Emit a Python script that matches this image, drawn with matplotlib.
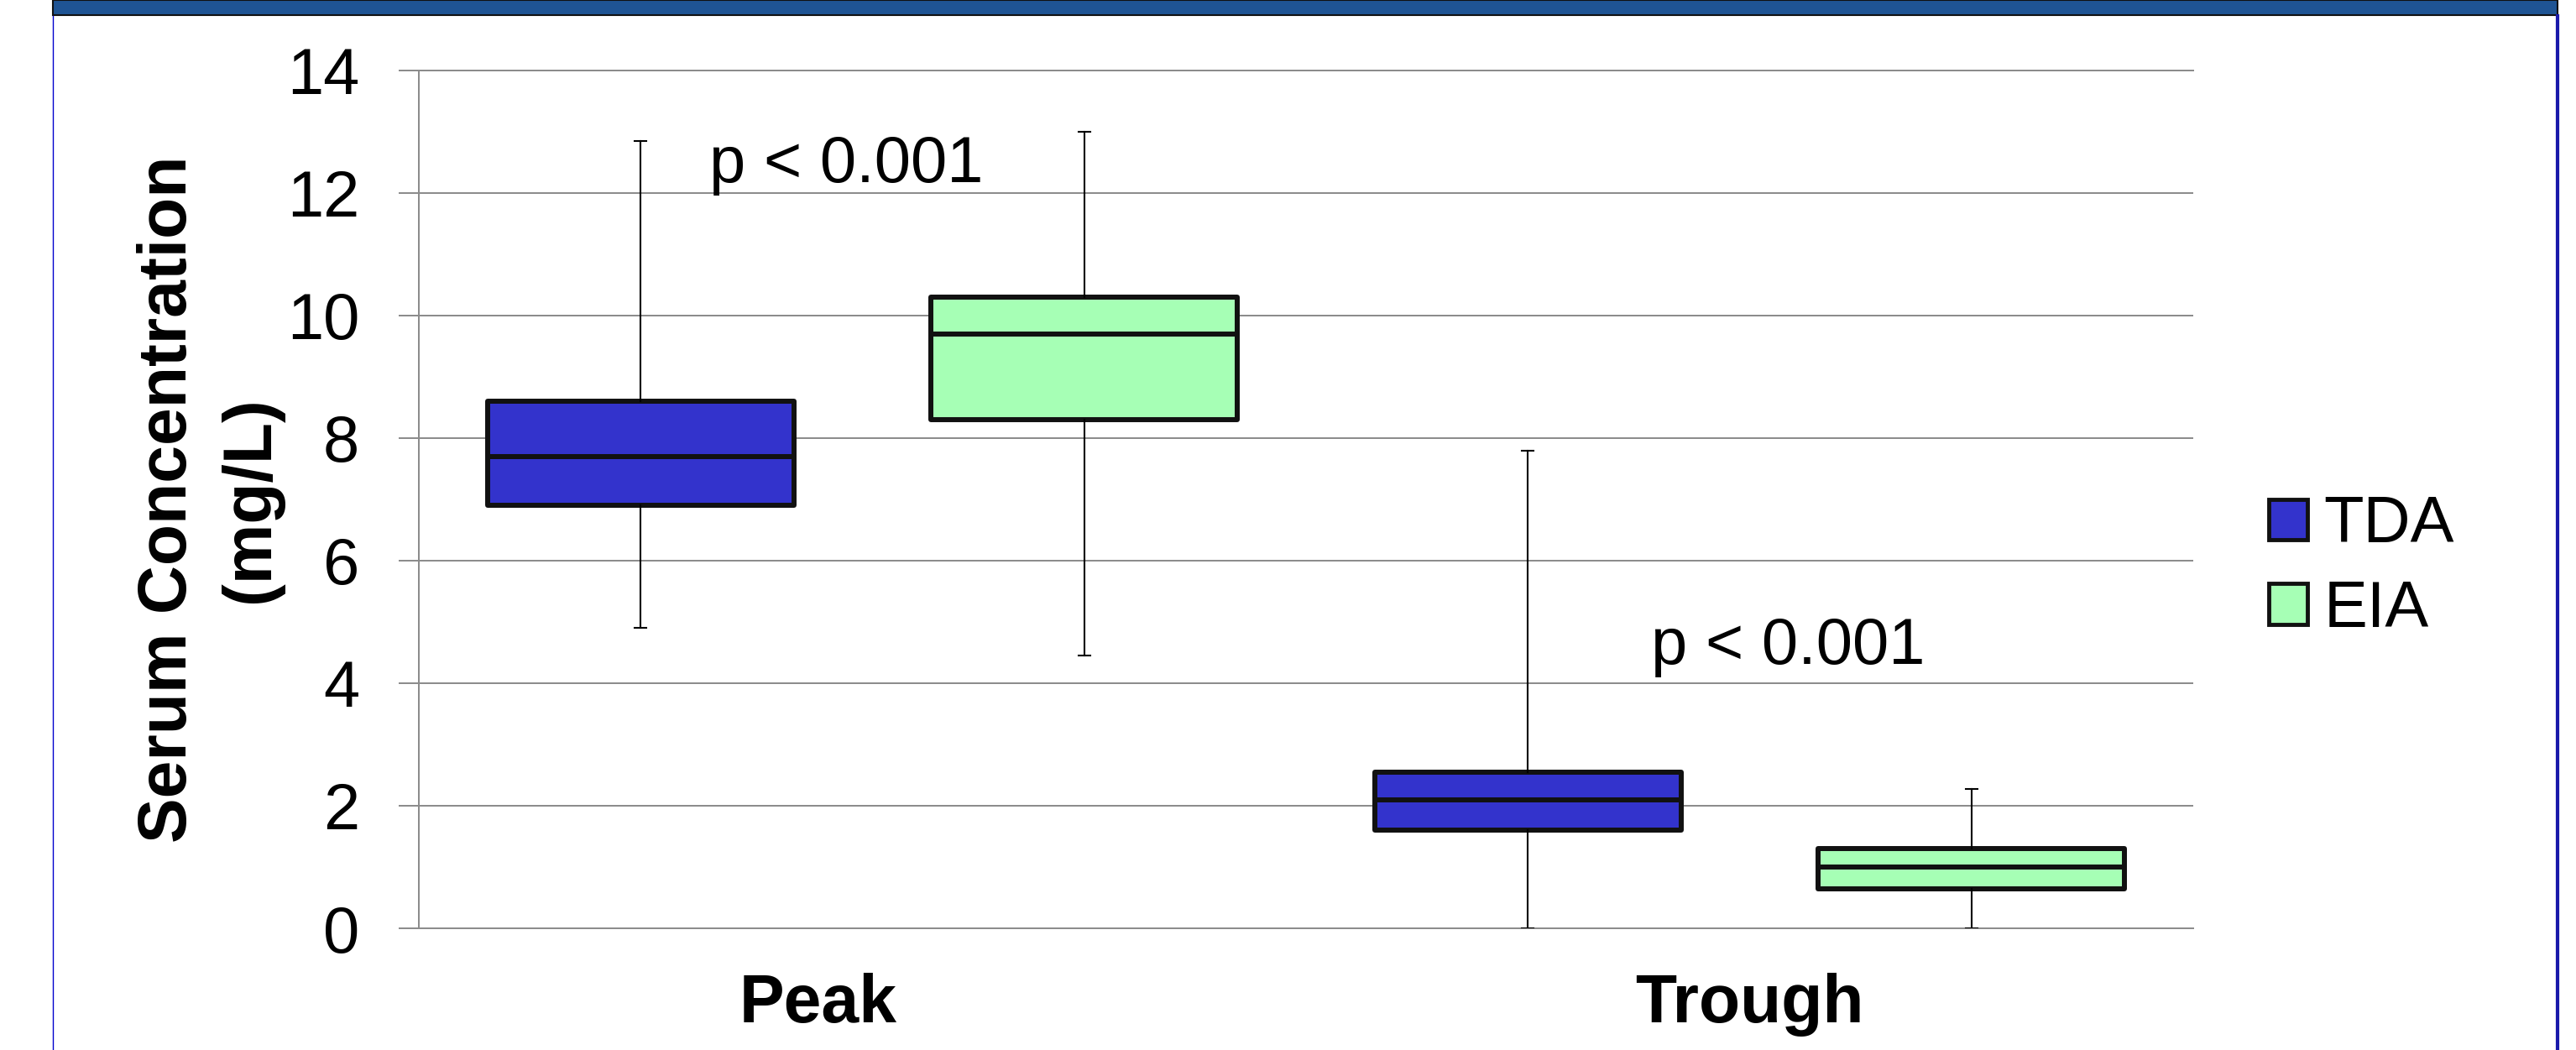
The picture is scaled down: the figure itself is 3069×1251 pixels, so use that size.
import matplotlib.pyplot as plt
from matplotlib.patches import Patch, Rectangle
from matplotlib.lines import Line2D

plt.rcParams['font.family'] = ['Liberation Sans', 'DejaVu Sans']

# data
groups = ['Peak', 'Trough']
series = ['TDA', 'EIA']
whisker_low = {'TDA': [4.9, 0.0], 'EIA': [4.45, 0.0]}
q1 = {'TDA': [6.9, 1.6], 'EIA': [8.3, 0.65]}
median = {'TDA': [7.7, 2.1], 'EIA': [9.7, 1.0]}
q3 = {'TDA': [8.6, 2.55], 'EIA': [10.3, 1.3]}
whisker_high = {'TDA': [12.85, 7.8], 'EIA': [13.0, 2.28]}
p_labels = ['p < 0.001', 'p < 0.001']
p_positions = [(0.327, 12.18), (1.389, 4.32)]
colors = {'TDA': '#3333CC', 'EIA': '#A6FFB5'}

fig = plt.figure(figsize=(30.69, 12.51), dpi=100)
ax = fig.add_axes([0.1626, 0.1159, 0.6888, 0.8170])

offsets = {'TDA': 0.25, 'EIA': 0.75}
for s in series:
    stats = []
    for i in range(len(groups)):
        stats.append(dict(whislo=whisker_low[s][i], q1=q1[s][i], med=median[s][i],
                          q3=q3[s][i], whishi=whisker_high[s][i], fliers=[]))
    ax.bxp(stats, positions=[i + offsets[s] for i in range(len(groups))],
           widths=0.345, capwidths=0.013, patch_artist=True, showfliers=False,
           boxprops=dict(facecolor=colors[s], edgecolor='#111111', linewidth=4.3,
                         joinstyle='round'),
           medianprops=dict(color='#111111', linewidth=4.3),
           whiskerprops=dict(color='black', linewidth=1.5),
           capprops=dict(color='black', linewidth=1.5), zorder=3)

for txt, (x, y) in zip(p_labels, p_positions):
    ax.text(x, y, txt, fontsize=56, va='baseline', ha='left', zorder=4)

ax.set_xlim(0, 2)
ax.set_ylim(0, 14)
ax.set_yticks(range(0, 15, 2))
ax.set_xticks([0.45, 1.5])
ax.set_xticklabels(groups, fontsize=58, fontweight='bold')
ax.tick_params(axis='x', length=0, pad=38)
ax.tick_params(axis='y', labelsize=56, length=17, width=1.44, color='#8c8c8c', pad=34)
ax.grid(axis='y', color='#8c8c8c', linewidth=1.44, zorder=0)
ax.set_axisbelow(True)
for side in ['left', 'top', 'bottom']:
    ax.spines[side].set_color('#8c8c8c')
    ax.spines[side].set_linewidth(1.44)
ax.spines['right'].set_visible(False)

ax.set_ylabel('Serum Concentration\n(mg/L)', fontsize=58, fontweight='bold',
              linespacing=1.38)
ax.yaxis.set_label_coords(-0.0766, 0.5)

handles = [Patch(facecolor=colors[s], edgecolor='#111111', linewidth=3.5, label=s)
           for s in series]
fig.legend(handles=handles, loc='center left', bbox_to_anchor=(0.8808, 0.4596),
           frameon=False, fontsize=56, handlelength=0.59, handleheight=0.59,
           handletextpad=0.25, labelspacing=0.35, borderpad=0, borderaxespad=0)

# slide frame: blue header band and side borders
left_x = 63 / 3069
right_x = 3047 / 3069
fig.patches.append(Rectangle((left_x, 0.9856), right_x - left_x, 0.0144,
                             transform=fig.transFigure, facecolor='#1F5494',
                             edgecolor='#111111', linewidth=1.5))
fig.lines.append(Line2D([left_x, left_x], [0, 0.9848], transform=fig.transFigure,
                        color='#0000CC', linewidth=1.0))
fig.lines.append(Line2D([right_x, right_x], [0, 0.9848], transform=fig.transFigure,
                        color='#1A1AAA', linewidth=3))

fig.savefig('out.png', dpi=100)
